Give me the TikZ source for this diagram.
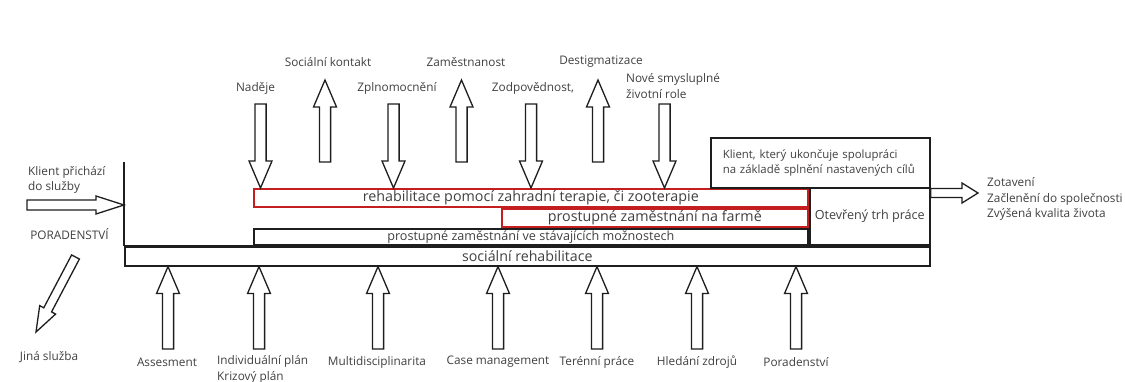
\documentclass[tikz,border=0pt]{standalone}
\usepackage{fontspec}
\setmainfont{Open Sans}
\usetikzlibrary{calc}
\definecolor{txt}{RGB}{64,64,64}
\definecolor{redb}{RGB}{196,30,30}
\definecolor{ink}{RGB}{30,30,30}
\tikzset{
  lbl/.style={font=\fontsize{11.8}{15.5}\selectfont, text=txt, inner sep=0pt},
  boxt/.style={draw=ink, line width=1.6pt, inner sep=0pt, anchor=north west, text=txt},
  redbox/.style={boxt, draw=redb},
  fatarrow/.style={draw=ink, fill=white, line width=1.3pt, line join=miter},
  fat/.style n args={3}{to path={let \p1=(\tikztostart), \p2=(\tikztotarget),
      \n1={atan2(\y2-\y1,\x2-\x1)}, \n2={veclen(\x2-\x1,\y2-\y1)} in
      ($(\p1)+(\n1+90:#1)$)
      -- ($(\p1)+(\n1:{\n2-#3})+(\n1+90:#1)$)
      -- ($(\p1)+(\n1:{\n2-#3})+(\n1+90:#2)$)
      -- (\p2)
      -- ($(\p1)+(\n1:{\n2-#3})+(\n1-90:#2)$)
      -- ($(\p1)+(\n1:{\n2-#3})+(\n1-90:#1)$)
      -- ($(\p1)+(\n1-90:#1)$) -- cycle}},
  vfat/.style={fat={5.6pt}{11.5pt}{27pt}}
}
\begin{document}
\begin{tikzpicture}[x=1pt,y=-1pt]
\useasboundingbox[fill=white] (0,0) rectangle (1125,382);

% ---- boxes
\node[boxt, minimum width=805pt, minimum height=19pt, font=\fontsize{14.2}{16}\selectfont] (soc) at (124,246) {sociální rehabilitace};
\node[boxt, minimum width=554pt, minimum height=16pt, font=\fontsize{12.6}{14}\selectfont] (stav) at (253,228) {prostupné zaměstnání ve stávajících možnostech};
\node[redbox, minimum width=554pt, minimum height=18pt, font=\fontsize{14.3}{16}\selectfont] (red1) at (253,188) {rehabilitace pomocí zahradní terapie, či zooterapie};
\node[redbox, minimum width=306pt, minimum height=18.5pt, font=\fontsize{14.3}{16}\selectfont] (red2) at (501,208) {prostupné zaměstnání na farmě};
\node[boxt, minimum width=120pt, minimum height=57pt, font=\fontsize{12.6}{14}\selectfont] (otev) at (809,187) {Otevřený trh práce};
\node[boxt, minimum height=50pt, text width=207pt, inner xsep=6pt, align=left, font=\fontsize{11.4}{15}\selectfont] (klient) at (710,137) {\hspace*{6pt}Klient, který ukončuje spolupráci\\\hspace*{6pt}na základě splnění nastavených cílů};
\draw[ink, line width=2.6pt] (soc.north west) -- (soc.north east);
\coordinate (vtop) at (124,162);
\draw[ink, line width=1.6pt] (vtop) -- (soc.north west);

% ---- top labels
\node[lbl] (lSoc) at (328,62) {Sociální kontakt};
\node[lbl] (lZam) at (466,62) {Zaměstnanost};
\node[lbl] (lDes) at (601,62) {Destigmatizace};
\node[lbl] (lNad) at (255.5,88) {Naděje};
\node[lbl] (lZpl) at (397,88) {Zplnomocnění};
\node[lbl] (lZod) at (533,88) {Zodpovědnost,};
\node[lbl, align=left, anchor=west] (lNov) at (626,86) {Nové smysluplné\\životní role};

% ---- left / right labels
\node[lbl, align=left, anchor=west] (lKli) at (28,180) {Klient přichází\\do služby};
\node[lbl] (lPor) at (69.5,234) {PORADENSTVÍ};
\node[lbl] (lJin) at (49,357) {Jiná služba};
\node[lbl, align=left, anchor=west] (lOut) at (987,199) {Zotavení\\Začlenění do společnosti\\Zvýšená kvalita života};

% ---- bottom labels
\node[lbl] (bAss) at (167,362) {Assesment};
\node[lbl, align=left, anchor=west] (bInd) at (217,369.5) {Individuální plán\\Krizový plán};
\node[lbl] (bMul) at (377,362) {Multidisciplinarita};
\node[lbl] (bCas) at (498,362) {Case management};
\node[lbl] (bTer) at (597,362) {Terénní práce};
\node[lbl] (bHle) at (697,362) {Hledání zdrojů};
\node[lbl] (bPor) at (796,362) {Poradenství};

% ---- top arrows (down into the red box)
\foreach \xx/\nm in {260.5/d1, 393.5/d2, 531/d3, 664.5/d4}{
  \coordinate (\nm s) at (\xx,104);
  \coordinate (\nm e) at (\nm s |- red1.north);
  \draw[fatarrow] (\nm s) to[vfat] (\nm e);
}
% ---- top arrows (up, outcomes)
\foreach \xx/\nm in {325/u1, 461.5/u2, 598/u3}{
  \coordinate (\nm s) at (\xx,162);
  \coordinate (\nm e) at (\xx,80);
  \draw[fatarrow] (\nm s) to[vfat] (\nm e);
}
% ---- bottom arrows (up into social rehabilitation)
\foreach \xx/\nm in {168/b1, 259/b2, 378/b3, 498/b4, 597/b5, 697/b6, 796/b7}{
  \coordinate (\nm s) at (\xx,349);
  \coordinate (\nm e) at (\nm s |- soc.south);
  \draw[fatarrow] (\nm s) to[vfat] (\nm e);
}

% ---- entry, exit and referral arrows
\coordinate (kin) at (27,205);
\coordinate (kine) at (kin -| vtop);
\draw[fatarrow] (kin) to[fat={5pt}{9pt}{28pt}] (kine);
\coordinate (oute) at (978,193);
\coordinate (outs) at (oute -| otev.east);
\draw[fatarrow] (outs) to[fat={4.5pt}{10pt}{16pt}] (oute);
\coordinate (gs) at (75.5,257);
\coordinate (ge) at (36,332);
\draw[fatarrow] (gs) to[fat={4.4pt}{9pt}{25pt}] (ge);
\end{tikzpicture}
\end{document}
